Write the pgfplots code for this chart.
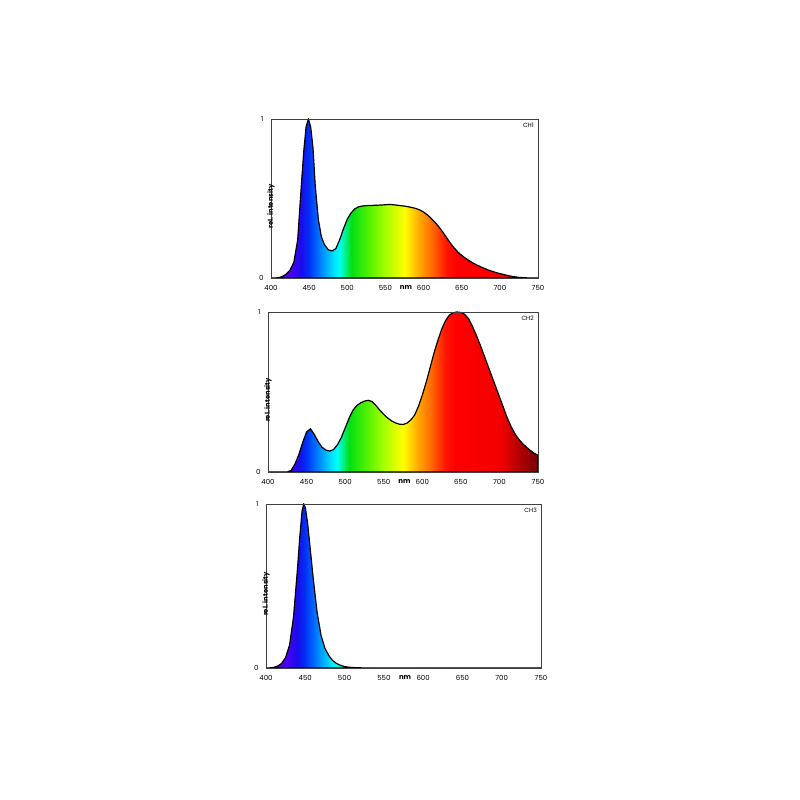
\documentclass[border=0pt]{standalone}
\usepackage{fontspec}
\setmainfont{Poppins}
\usepackage{pgfplots}
\pgfplotsset{compat=1.18}

% horizontal spectrum shadings: 25bp = 400 nm, 75bp = 750 nm (1bp = 7 nm)
\pgfdeclarehorizontalshading{specA}{100bp}{
rgb(0bp)=(0.42,0,0.78);
rgb(25bp)=(0.42,0,0.78);
rgb(28.571bp)=(0.3,0,0.95);
rgb(30.714bp)=(0.1,0.05,0.93);
rgb(32.143bp)=(0,0.2,0.96);
rgb(33.571bp)=(0,0.4,1);
rgb(35bp)=(0,0.62,1);
rgb(36.857bp)=(0,0.9,1);
rgb(37.857bp)=(0,1,0.95);
rgb(40bp)=(0,0.88,0.08);
rgb(43.571bp)=(0.35,0.95,0);
rgb(46.429bp)=(0.65,1,0);
rgb(50bp)=(1,1,0);
rgb(52.857bp)=(1,0.65,0);
rgb(55.286bp)=(1,0.4,0);
rgb(57.857bp)=(1,0.08,0);
rgb(59.571bp)=(1,0,0);
rgb(67.143bp)=(1,0,0);
rgb(75bp)=(0.93,0,0);
rgb(100bp)=(0.93,0,0)}

\pgfdeclarehorizontalshading{specB}{100bp}{
rgb(0bp)=(0.42,0,0.78);
rgb(25bp)=(0.42,0,0.78);
rgb(28.571bp)=(0.3,0,0.95);
rgb(30.714bp)=(0.1,0.05,0.93);
rgb(32.143bp)=(0,0.2,0.96);
rgb(33.571bp)=(0,0.4,1);
rgb(35bp)=(0,0.62,1);
rgb(36.857bp)=(0,0.9,1);
rgb(37.857bp)=(0,1,0.95);
rgb(40bp)=(0,0.88,0.08);
rgb(43.571bp)=(0.35,0.95,0);
rgb(46.429bp)=(0.65,1,0);
rgb(50bp)=(1,1,0);
rgb(52.857bp)=(1,0.65,0);
rgb(55.286bp)=(1,0.4,0);
rgb(57.857bp)=(1,0.08,0);
rgb(59.571bp)=(1,0,0);
rgb(68bp)=(0.95,0,0);
rgb(75bp)=(0.45,0,0.02);
rgb(100bp)=(0.45,0,0.02)}

\pgfplotstableread{
x y
400 0
405 0
410 0.002
415 0.01
420 0.025
425 0.05
430 0.10
435 0.24
440 0.60
443 0.80
446 0.95
449 1.0
452 0.95
455 0.82
458 0.58
462 0.37
466 0.26
470 0.21
475 0.178
480 0.17
485 0.185
490 0.24
495 0.31
500 0.37
505 0.41
510 0.435
515 0.448
520 0.453
525 0.455
530 0.456
535 0.457
540 0.458
545 0.459
550 0.461
555 0.462
560 0.461
565 0.458
570 0.455
575 0.452
580 0.448
585 0.443
590 0.437
595 0.428
600 0.415
605 0.397
610 0.375
615 0.350
620 0.322
625 0.290
630 0.255
635 0.220
640 0.190
645 0.163
650 0.142
655 0.124
660 0.108
665 0.094
670 0.081
675 0.070
680 0.060
685 0.050
690 0.042
695 0.034
700 0.028
705 0.022
710 0.016
715 0.011
720 0.007
725 0.004
730 0.002
735 0.001
740 0
745 0
750 0
}\chone

\pgfplotstableread{
x y
400 0
405 0
410 0
415 0
420 0
425 0
430 0.01
435 0.05
440 0.11
445 0.185
450 0.25
455 0.27
460 0.235
465 0.19
470 0.155
475 0.137
480 0.131
485 0.14
490 0.17
495 0.215
500 0.275
505 0.335
510 0.385
515 0.415
520 0.432
525 0.443
530 0.448
535 0.44
540 0.415
545 0.386
550 0.36
555 0.338
560 0.32
565 0.307
570 0.299
575 0.297
580 0.305
585 0.325
590 0.355
595 0.41
600 0.48
605 0.56
610 0.65
615 0.74
620 0.82
625 0.89
630 0.945
635 0.98
640 0.995
645 1.0
650 0.997
655 0.985
660 0.958
665 0.91
670 0.855
675 0.795
680 0.73
685 0.665
690 0.60
695 0.535
700 0.47
705 0.405
710 0.34
715 0.285
720 0.24
725 0.205
730 0.178
735 0.155
740 0.135
745 0.117
750 0.105
}\chtwo

\pgfplotstableread{
x y
400 0
405 0.001
410 0.004
415 0.012
420 0.028
425 0.065
430 0.14
435 0.31
440 0.60
443 0.80
446 0.96
448 1.0
450 0.98
453 0.88
456 0.74
460 0.55
465 0.34
470 0.20
475 0.12
480 0.075
485 0.045
490 0.027
495 0.016
500 0.009
505 0.005
510 0.003
520 0.001
530 0
600 0
700 0
750 0
}\chthree

\pgfplotsset{
  spec/.style={
    scale only axis, anchor=south west,
    xmin=400, xmax=750, ymin=0, ymax=1,
    xtick={400,450,...,750}, ytick={0,1},
    major tick length=0pt,
    /pgf/number format/assume math mode=true,
    tick label style={font=\fontsize{7}{8}\selectfont},
    yticklabel style={xshift=-4pt},
    xticklabel style={yshift=-4pt},
    axis line style={black!75, line width=0.5pt},
    axis on top,
    extra x ticks={577},
    extra x tick labels={\textbf{nm}},
    extra x tick style={major tick length=0pt},
    ylabel={\textbf{rel. intensity}},
    every axis y label/.style={at={(rel axis cs:0,0.5)}, rotate=90, anchor=center, xshift=-8pt, font=\fontsize{6.8}{7}\selectfont},
  },
}
\tikzset{
  chlabel/.style={font=\fontsize{6}{7}\selectfont, anchor=north east, inner sep=0pt, xshift=-4pt, yshift=-3.5pt},
  curve/.style={draw=black, line width=1.2pt, shade, shading=#1},
}

\begin{document}
\begin{tikzpicture}[x=1pt,y=1pt]
\path[use as bounding box, fill=white] (0,0) rectangle (800,800);

\begin{axis}[spec, at={(271pt,522pt)}, width=267pt, height=159pt]
\addplot[curve=specA] table[x=x,y=y] {\chone} \closedcycle;
\node[chlabel] at (rel axis cs:1,1) {CH1};
\end{axis}

\begin{axis}[spec, at={(268pt,328pt)}, width=270pt, height=160pt]
\addplot[curve=specB] table[x=x,y=y] {\chtwo} \closedcycle;
\node[chlabel] at (rel axis cs:1,1) {CH2};
\end{axis}

\begin{axis}[spec, at={(266pt,132pt)}, width=275pt, height=164pt]
\addplot[curve=specA] table[x=x,y=y] {\chthree} \closedcycle;
\node[chlabel] at (rel axis cs:1,1) {CH3};
\end{axis}
\end{tikzpicture}
\end{document}
